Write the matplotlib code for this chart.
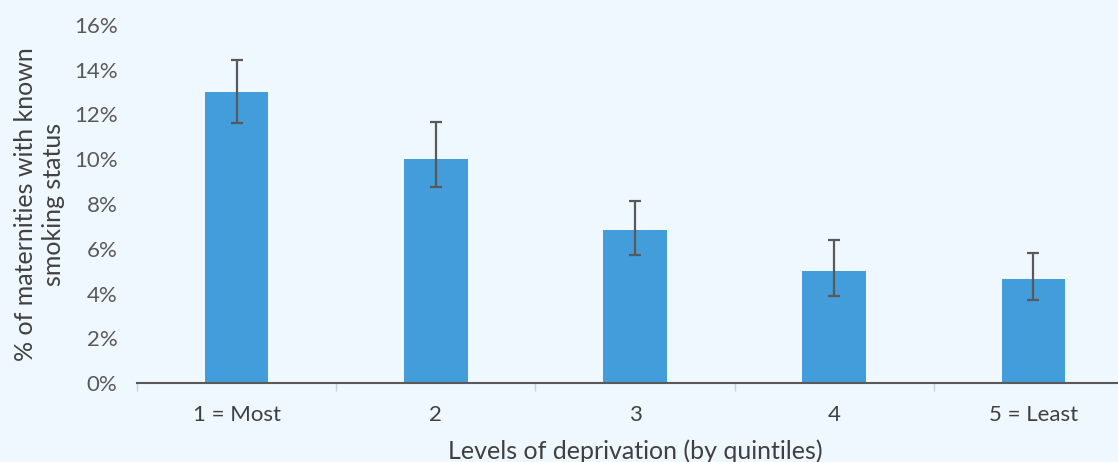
import numpy as np
import matplotlib.pyplot as plt
from matplotlib.ticker import PercentFormatter

plt.rcParams['font.family'] = ['Lato', 'DejaVu Sans']

categories = ['1 = Most', '2', '3', '4', '5 = Least']
values = [13.0, 10.0, 6.85, 5.0, 4.65]
err_low = [11.6, 8.75, 5.72, 3.9, 3.7]
err_high = [14.45, 11.65, 8.15, 6.37, 5.83]

bg = '#F0F8FF'
bar_color = '#429DDA'
text_color = '#595959'

fig = plt.figure(figsize=(11.18, 4.62), dpi=100, facecolor=bg)
ax = fig.add_axes([137 / 1118, 1 - 383 / 462, 996 / 1118, 358 / 462])
ax.set_facecolor(bg)

x = np.arange(len(categories))
vals = np.array(values)
yerr = [vals - np.array(err_low), np.array(err_high) - vals]
ax.bar(x, vals, width=0.32, color=bar_color, zorder=2)
ax.errorbar(x, vals, yerr=yerr, fmt='none', ecolor=text_color,
            elinewidth=1.6, capsize=4.5, capthick=1.6, zorder=3)

ax.set_xlim(-0.5, len(categories) - 0.5)
ax.set_ylim(0, 16)
ax.set_yticks(np.arange(0, 17, 2))
ax.yaxis.set_major_formatter(PercentFormatter(decimals=0))
ax.set_xticks(x)
ax.set_xticklabels(categories)
ax.set_xticks(np.arange(-0.5, len(categories), 1), minor=True)

for s in ['top', 'right', 'left']:
    ax.spines[s].set_visible(False)
ax.spines['bottom'].set_color(text_color)
ax.spines['bottom'].set_linewidth(1.5)

ax.tick_params(axis='y', length=0, pad=14, labelsize=16, labelcolor=text_color)
ax.tick_params(axis='x', which='major', length=0, pad=16, labelsize=16,
               labelcolor='#404040')
ax.tick_params(axis='x', which='minor', length=6, color='#D0D0D0', width=1)

ax.set_xlabel('Levels of deprivation (by quintiles)', fontsize=18,
              color='#404040', labelpad=10)
ax.set_ylabel('% of maternities with known\nsmoking status', fontsize=18,
              color='#404040', labelpad=6, linespacing=1.3)

fig.savefig('out.png', dpi=100, facecolor=bg)
